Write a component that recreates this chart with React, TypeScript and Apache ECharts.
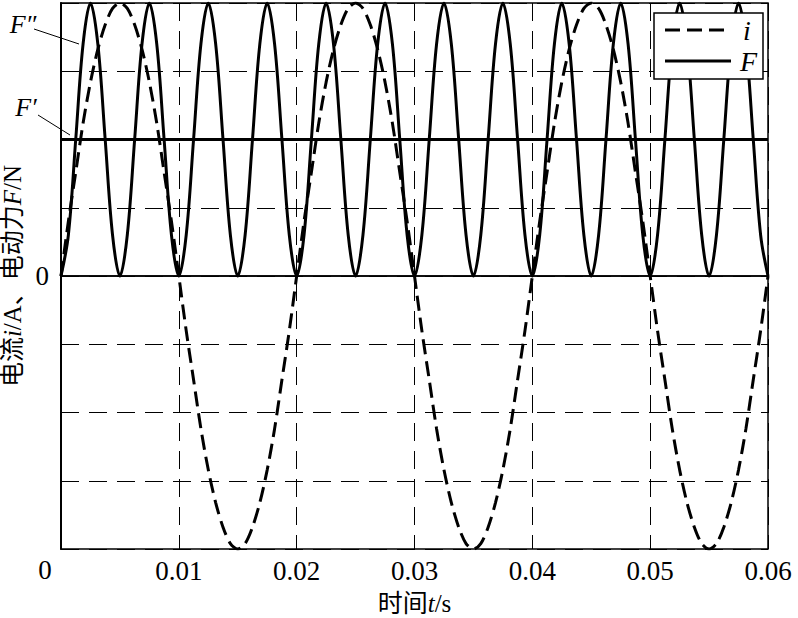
import React, { useEffect, useRef } from "react";
import * as echarts from "echarts";

// sample times in milliseconds (step 0.625 ms)
const T_MS = [
  0, 0.625, 1.25, 1.875, 2.5, 3.125, 3.75, 4.375, 5, 5.625, 6.25, 6.875, 7.5, 8.125, 8.75, 9.375,
  10, 10.625, 11.25, 11.875, 12.5, 13.125, 13.75, 14.375, 15, 15.625, 16.25, 16.875, 17.5, 18.125, 18.75, 19.375,
  20, 20.625, 21.25, 21.875, 22.5, 23.125, 23.75, 24.375, 25, 25.625, 26.25, 26.875, 27.5, 28.125, 28.75, 29.375,
  30, 30.625, 31.25, 31.875, 32.5, 33.125, 33.75, 34.375, 35, 35.625, 36.25, 36.875, 37.5, 38.125, 38.75, 39.375,
  40, 40.625, 41.25, 41.875, 42.5, 43.125, 43.75, 44.375, 45, 45.625, 46.25, 46.875, 47.5, 48.125, 48.75, 49.375,
  50, 50.625, 51.25, 51.875, 52.5, 53.125, 53.75, 54.375, 55, 55.625, 56.25, 56.875, 57.5, 58.125, 58.75, 59.375,
  60,
];

// current i (dashed)
const CURRENT = [
  0, 0.2, 0.38, 0.56, 0.71, 0.83, 0.92, 0.98, 1, 0.98, 0.92, 0.83, 0.71, 0.56, 0.38, 0.2,
  0, -0.2, -0.38, -0.56, -0.71, -0.83, -0.92, -0.98, -1, -0.98, -0.92, -0.83, -0.71, -0.56, -0.38, -0.2,
  0, 0.2, 0.38, 0.56, 0.71, 0.83, 0.92, 0.98, 1, 0.98, 0.92, 0.83, 0.71, 0.56, 0.38, 0.2,
  0, -0.2, -0.38, -0.56, -0.71, -0.83, -0.92, -0.98, -1, -0.98, -0.92, -0.83, -0.71, -0.56, -0.38, -0.2,
  0, 0.2, 0.38, 0.56, 0.71, 0.83, 0.92, 0.98, 1, 0.98, 0.92, 0.83, 0.71, 0.56, 0.38, 0.2,
  0, -0.2, -0.38, -0.56, -0.71, -0.83, -0.92, -0.98, -1, -0.98, -0.92, -0.83, -0.71, -0.56, -0.38, -0.2,
  0,
];

// electrodynamic force F (solid)
const FORCE = [
  0, 0.15, 0.5, 0.85, 1, 0.85, 0.5, 0.15, 0, 0.15, 0.5, 0.85, 1, 0.85, 0.5, 0.15,
  0, 0.15, 0.5, 0.85, 1, 0.85, 0.5, 0.15, 0, 0.15, 0.5, 0.85, 1, 0.85, 0.5, 0.15,
  0, 0.15, 0.5, 0.85, 1, 0.85, 0.5, 0.15, 0, 0.15, 0.5, 0.85, 1, 0.85, 0.5, 0.15,
  0, 0.15, 0.5, 0.85, 1, 0.85, 0.5, 0.15, 0, 0.15, 0.5, 0.85, 1, 0.85, 0.5, 0.15,
  0, 0.15, 0.5, 0.85, 1, 0.85, 0.5, 0.15, 0, 0.15, 0.5, 0.85, 1, 0.85, 0.5, 0.15,
  0, 0.15, 0.5, 0.85, 1, 0.85, 0.5, 0.15, 0, 0.15, 0.5, 0.85, 1, 0.85, 0.5, 0.15,
  0,
];

const F_AVG = 0.5; // F'
const X_RANGE = [0, 0.06];
const X_TICK = 0.01;
const Y_RANGE = [-1, 1];
const Y_TICK = 0.25;

const SERIF = "Liberation Serif, Noto Sans CJK SC, serif";

export default function App() {
  const ref = useRef<HTMLDivElement>(null);
  useEffect(() => {
    if (!ref.current) return;
    const chart = echarts.init(ref.current, undefined, { renderer: "svg" });
    const curData = T_MS.map((t, k) => [t / 1000, CURRENT[k]]);
    const fData = T_MS.map((t, k) => [t / 1000, FORCE[k]]);
    chart.setOption({
      animation: false,
      backgroundColor: "#fff",
      textStyle: { fontFamily: SERIF },
      grid: {
        left: 61,
        right: 30,
        top: 3,
        bottom: 69,
        containLabel: false,
        outerBoundsMode: "none",
        show: true,
        borderColor: "#000",
        borderWidth: 1.5,
      },
      xAxis: {
        type: "value",
        min: X_RANGE[0],
        max: X_RANGE[1],
        interval: X_TICK,
        name: "时间{it|t}/s",
        nameLocation: "middle",
        nameGap: 42,
        nameTextStyle: {
          fontFamily: SERIF,
          fontSize: 25,
          lineHeight: 25,
          color: "#000",
          rich: {
            it: { fontStyle: "italic", fontFamily: SERIF, fontSize: 25, lineHeight: 25, color: "#000" },
          },
        },
        axisLine: { show: true, lineStyle: { color: "#000", width: 1.5 } },
        axisTick: { show: true, inside: true, length: 5, lineStyle: { color: "#000" } },
        axisLabel: {
          color: "#000",
          fontFamily: SERIF,
          fontSize: 27,
          margin: 8,
          formatter: (v: number) => (v === 0 ? "" : String(Number(v.toFixed(2)))),
        },
        splitLine: { show: true, lineStyle: { color: "#000", type: [18, 10], width: 1 } },
      },
      yAxis: {
        type: "value",
        min: Y_RANGE[0],
        max: Y_RANGE[1],
        interval: Y_TICK,
        name: "电流{it|i}/A、电动力{it|F}/N",
        nameLocation: "middle",
        nameRotate: 90,
        nameGap: 31,
        nameTextStyle: {
          fontFamily: SERIF,
          fontSize: 25,
          color: "#000",
          rich: { it: { fontStyle: "italic", fontFamily: SERIF, fontSize: 25, color: "#000" } },
        },
        axisLine: { show: true, lineStyle: { color: "#000", width: 2 } },
        axisTick: { show: false },
        axisLabel: {
          color: "#000",
          fontFamily: SERIF,
          fontSize: 27,
          margin: 12,
          formatter: (v: number) => (Math.abs(v) < 1e-9 ? "0" : ""),
        },
        splitLine: { show: true, lineStyle: { color: "#000", type: [18, 10], width: 1 } },
      },
      series: [
        {
          name: "i",
          type: "line",
          data: curData,
          showSymbol: false,
          smooth: 0.3,
          lineStyle: { color: "#000", width: 3, type: [15, 7] },
          z: 3,
          markLine: {
            silent: true,
            symbol: "none",
            label: { show: false },
            lineStyle: { color: "#000", width: 1.5, type: "solid" },
            data: [{ yAxis: 0 }],
          },
        },
        {
          name: "F",
          type: "line",
          data: fData,
          showSymbol: false,
          smooth: 0.35,
          lineStyle: { color: "#000", width: 3, type: "solid" },
          z: 4,
        },
        {
          name: "F'",
          type: "line",
          data: [
            [X_RANGE[0], F_AVG],
            [X_RANGE[1], F_AVG],
          ],
          showSymbol: false,
          lineStyle: { color: "#000", width: 3, type: "solid" },
          z: 4,
        },
      ],
      graphic: [
        {
          type: "text",
          x: 45,
          y: 570,
          z: 100,
          style: {
            text: "0",
            font: `27px ${SERIF}`,
            fill: "#000",
            align: "center",
            verticalAlign: "middle",
          },
        },
        {
          type: "group",
          z: 100,
          children: [
            {
              type: "rect",
              shape: { x: 654, y: 13, width: 109, height: 66 },
              style: { fill: "#fff", stroke: "#000", lineWidth: 1.5 },
              z: 100,
            },
            {
              type: "line",
              shape: { x1: 665, y1: 30, x2: 731, y2: 30 },
              style: { stroke: "#000", lineWidth: 3, lineDash: [15, 7] },
              z: 101,
            },
            {
              type: "text",
              x: 743,
              y: 30,
              style: {
                text: "i",
                font: `italic 28px ${SERIF}`,
                fill: "#000",
                verticalAlign: "middle",
                align: "left",
              },
              z: 101,
            },
            {
              type: "line",
              shape: { x1: 665, y1: 61, x2: 731, y2: 61 },
              style: { stroke: "#000", lineWidth: 3 },
              z: 101,
            },
            {
              type: "text",
              x: 740,
              y: 61,
              style: {
                text: "F",
                font: `italic 28px ${SERIF}`,
                fill: "#000",
                verticalAlign: "middle",
                align: "left",
              },
              z: 101,
            },
          ],
        },
        {
          type: "text",
          x: 23,
          y: 24,
          z: 100,
          style: {
            text: "F″",
            font: `italic 26px ${SERIF}`,
            fill: "#000",
            align: "center",
            verticalAlign: "middle",
          },
        },
        {
          type: "line",
          z: 100,
          shape: { x1: 34, y1: 29, x2: 79, y2: 44 },
          style: { stroke: "#000", lineWidth: 1 },
        },
        {
          type: "text",
          x: 26,
          y: 107,
          z: 100,
          style: {
            text: "F′",
            font: `italic 26px ${SERIF}`,
            fill: "#000",
            align: "center",
            verticalAlign: "middle",
          },
        },
        {
          type: "line",
          z: 100,
          shape: { x1: 38, y1: 115, x2: 70, y2: 135 },
          style: { stroke: "#000", lineWidth: 1 },
        },
      ],
    });
    return () => chart.dispose();
  }, []);
  return (
    <div
      ref={ref}
      style={{ position: "fixed", left: 0, top: 0, width: 798, height: 618 }}
    />
  );
}
